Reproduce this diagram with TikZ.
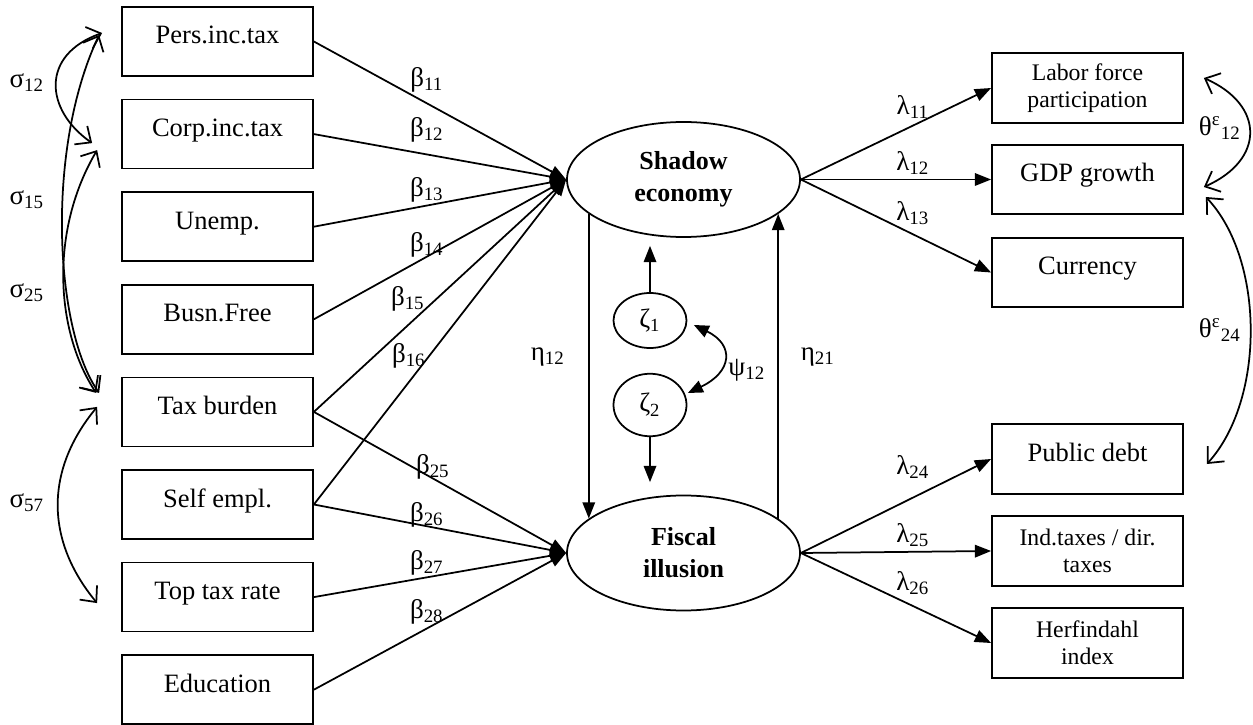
\documentclass[tikz,border=0pt]{standalone}
\usepackage{fontspec}
\setmainfont{Liberation Serif}
\usetikzlibrary{shapes.geometric,arrows.meta,calc}
\tikzset{
obs/.style={
  draw, rectangle,
  minimum width=76.4pt,
  minimum height=27.6pt,
  inner sep=1pt,
  text height=8pt,
  text depth=6pt,
  font=\fontsize{10.6}{12}\selectfont
  },
obstwo/.style={
  draw, rectangle,
  minimum width=76.4pt,
  minimum height=28pt,
  inner sep=1pt,
  align=center,
  font=\fontsize{9.5}{10.8}\selectfont
  },
lat/.style={
  draw, ellipse,
  minimum width=93.2pt,
  minimum height=46pt,
  inner sep=0pt,
  align=center,
  font=\fontsize{10.4}{12.8}\selectfont\bfseries
  },
zeta/.style={
  draw, ellipse,
  minimum width=29.2pt,
  inner sep=0pt,
  font=\fontsize{10.6}{12}\selectfont
  },
coef/.style={inner sep=0pt, font=\fontsize{10.8}{12}\selectfont},
regr/.style={-{Triangle[length=6.5pt,width=5pt]}},
covf/.style={{Triangle[length=6pt,width=5pt]}-{Triangle[length=6pt,width=5pt]}},
cov/.style={{Straight Barb[length=5pt,width=9pt]}-{Straight Barb[length=5pt,width=9pt]}}
}

\begin{document}
\begin{tikzpicture}[x=0.4pt, y=-0.4pt, line width=0.7pt]
  \useasboundingbox (0,0) rectangle (1253,725);

  % causes
  \node[obs] (pers)   at (217.5, 41.5) {Pers.inc.tax};
  \node[obs] (corp)   at (217.5,134.1) {Corp.inc.tax};
  \node[obs] (unemp)  at (217.5,226.7) {Unemp.};
  \node[obs] (busn)   at (217.5,319.3) {Busn.Free};
  \node[obs] (taxb)   at (217.5,411.9) {Tax burden};
  \node[obs] (selfe)  at (217.5,504.5) {Self empl.};
  \node[obs] (toptax) at (217.5,597.1) {Top tax rate};
  \node[obs] (educ)   at (217.5,689.7) {Education};

  % latent
  \node[lat] (shadow) at (683.5,179.5) {Shadow\\economy};
  \node[lat] (fiscal) at (683.5,553) {Fiscal\\illusion};
  \node[zeta,minimum height=22pt] (z1) at (650,320.5) {ζ\textsubscript{1}};
  \node[zeta,minimum height=25pt] (z2) at (650,405) {ζ\textsubscript{2}};

  % indicators
  \node[obstwo] (labor)  at (1087.5, 88) {Labor force\\participation};
  \node[obs]    (gdp)    at (1087.5,179.5) {GDP growth};
  \node[obs]    (curr)   at (1087.5,272.5) {Currency};
  \node[obs,minimum height=28pt] (debt) at (1087.5,459) {Public debt};
  \node[obstwo] (indtax) at (1087.5,551) {Ind.taxes / dir.\\taxes};
  \node[obstwo] (herf)   at (1087.5,643) {Herfindahl\\index};

  \draw[regr] (pers.east)   -- (shadow.west);
  \draw[regr] (corp.east)   -- (shadow.west);
  \draw[regr] (unemp.east)  -- (shadow.west);
  \draw[regr] (busn.east)   -- (shadow.west);
  \draw[regr] (taxb.east)   -- (shadow.west);
  \draw[regr] (selfe.east)  -- (shadow.west);
  \draw[regr] (taxb.east)   -- (fiscal.west);
  \draw[regr] (selfe.east)  -- (fiscal.west);
  \draw[regr] (toptax.east) -- (fiscal.west);
  \draw[regr] (educ.east)   -- (fiscal.west);

  \draw[regr] (shadow.east) -- (labor.west);
  \draw[regr] (shadow.east) -- (gdp.west);
  \draw[regr] (shadow.east) -- (curr.west);
  \draw[regr] (fiscal.east) -- (debt.west);
  \draw[regr] (fiscal.east) -- (indtax.west);
  \draw[regr] (fiscal.east) -- (herf.west);

  \draw[regr] (shadow.200) -- (fiscal.160);
  \draw[regr] (fiscal.20) -- (shadow.-20);
  \draw[regr,shorten >=3.2pt] (z1.north) -- (z1.north |- shadow.south);
  \draw[regr,shorten >=5pt] (z2.south) -- (z2.south |- fiscal.north);
  \draw[covf] ($(z1.east)+(6.5,4.5)$) .. controls (735,345) and (732,372) .. ($(z2.east)+(0.5,-12)$);

  % covariances
  \draw[cov] ($(pers.west)+(-19,-8.5)$) .. controls (40,55) and (45,110) .. ($(corp.west)+(-29,9)$);
  \draw[cov] ($(pers.west)+(-22,-6.5)$) .. controls (45,150) and (55,330) .. ($(taxb.west)+(-22,-19)$);
  \draw[cov] ($(corp.west)+(-24,16)$) .. controls (50,230) and (55,330) .. ($(taxb.west)+(-25,-19)$);
  \draw[cov] ($(taxb.west)+(-24,-5)$) .. controls (45,470) and (45,540) .. ($(toptax.west)+(-24,6)$);
  \draw[cov] ($(labor.east)+(20,-10)$) .. controls (1265,105) and (1265,160) .. ($(gdp.east)+(20,7.5)$);
  \draw[cov] ($(gdp.east)+(22,17.5)$) .. controls (1265,260) and (1265,400) .. ($(debt.east)+(23,5)$);

  % labels
  \node[coef] (b11) at (427, 80) {β\textsubscript{11}};
  \node[coef] (b12) at (427,130) {β\textsubscript{12}};
  \node[coef] (b13) at (427,190) {β\textsubscript{13}};
  \node[coef] (b14) at (427,245) {β\textsubscript{14}};
  \node[coef] (b15) at (408,299) {β\textsubscript{15}};
  \node[coef] (b16) at (409,356) {β\textsubscript{16}};
  \node[coef] (b25) at (433,467) {β\textsubscript{25}};
  \node[coef] (b26) at (427,515) {β\textsubscript{26}};
  \node[coef] (b27) at (427,563) {β\textsubscript{27}};
  \node[coef] (b28) at (427,612) {β\textsubscript{28}};
  \node[coef] (l11) at (913,107) {λ\textsubscript{11}};
  \node[coef] (l12) at (913,163) {λ\textsubscript{12}};
  \node[coef] (l13) at (913,213) {λ\textsubscript{13}};
  \node[coef] (l24) at (913,467) {λ\textsubscript{24}};
  \node[coef] (l25) at (913,535) {λ\textsubscript{25}};
  \node[coef] (l26) at (913,583) {λ\textsubscript{26}};
  \node[coef] (e12) at (548,357) {η\textsubscript{12}};
  \node[coef] (e21) at (818,357) {η\textsubscript{21}};
  \node[coef] (p12) at (747,370) {ψ\textsubscript{12}};
  \node[coef] (s12) at (27, 83) {σ\textsubscript{12}};
  \node[coef] (s15) at (27,200) {σ\textsubscript{15}};
  \node[coef] (s25) at (27,293) {σ\textsubscript{25}};
  \node[coef] (s57) at (27,503) {σ\textsubscript{57}};
  \node[coef] (t12) at (1220,128) {θ\textsuperscript{ε}\textsubscript{12}};
  \node[coef] (t24) at (1220,330) {θ\textsuperscript{ε}\textsubscript{24}};

\end{tikzpicture}
\end{document}
